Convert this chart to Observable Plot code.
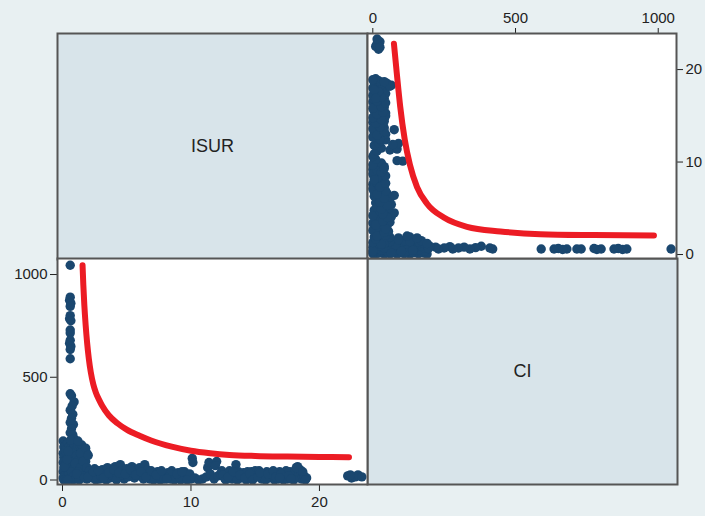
<!DOCTYPE html>
<html><head><meta charset="utf-8">
<script src="https://cdn.jsdelivr.net/npm/d3@7"></script>
<script src="https://cdn.jsdelivr.net/npm/@observablehq/plot@0.6"></script>
<style>
html,body{margin:0;padding:0;background:#e8f0f2;}
#wrap{position:relative;width:705px;height:516px;overflow:hidden;background:#e8f0f2;font-family:"Liberation Sans",Arial,sans-serif;}
#wrap > div{position:absolute;line-height:0;}
</style></head><body><div id="wrap">
<div id="p11"></div><div id="p22"></div><div id="p12"></div><div id="p21"></div>
</div>
<script>
// Variable names (diagonal labels)
const varNames = ["ISUR", "CI"];
// Tick labels
const isurTicks = [0, 10, 20];
const ciTicks = [0, 500, 1000];

// Observations: ISUR values
const isur = [
  // ISUR ~0-0.3
  0.05,0.15,0.25,0.1,0.2,0.05,0.3,0.1,0.2,0.05,0.25,0.1,0.2,0.05,0.3,0.15,0.05,0.25,0.1,0.3,
  // ISUR 0.4-1.0
  0.4,0.5,0.6,0.7,0.8,0.9,1.0,0.4,0.5,0.6,0.7,0.8,0.9,1.0,0.4,0.5,0.6,0.7,0.8,0.9,1.0,0.4,
  // tower, lower part
  0.6,0.7,0.9,0.75,0.6,0.8,0.7,0.6,0.85,0.7,0.6,0.8,0.9,0.65,
  // tower, upper part
  0.6,0.6,0.55,0.65,0.6,0.6,0.55,0.65,0.6,0.6,0.6,0.55,0.65,0.6,0.6,
  // ISUR 1-2
  1.1,1.2,1.4,1.6,1.1,1.3,1.5,1.8,1.0,1.4,1.7,1.9,1.2,1.6,1.3,1.9,2.0,1.1,1.5,1.7,
  0.15,0.25,0.35,0.45,1.2,1.4,1.6,1.8,1.9,2.0,
  // ISUR 2-10
  2.1,2.3,2.5,2.7,2.9,3.1,3.3,3.5,3.7,3.9,4.1,4.3,4.5,4.6,4.8,5.0,5.2,5.4,5.6,5.8,6.0,6.2,6.4,6.6,6.8,
  7.0,7.2,7.4,7.6,7.8,8.0,8.2,8.4,8.6,8.8,9.0,9.2,9.4,9.6,9.8,10.0,
  2.2,2.6,3.0,3.4,3.8,4.2,4.7,5.1,5.5,5.9,6.3,6.7,7.1,7.5,7.9,8.3,8.7,9.1,9.5,9.9,
  2.0,2.4,2.8,3.2,3.6,4.0,4.4,4.9,5.3,5.7,6.1,6.5,6.9,7.3,7.7,8.1,8.5,8.9,9.3,9.7,
  // ISUR 10-13.5
  10.1,10.15,10.3,10.6,10.9,11.2,11.3,11.4,11.5,11.8,12.0,12.1,12.3,11.9,13.5,
  // ISUR 12.4-19
  12.4,12.6,12.8,13.0,13.2,13.4,13.7,13.9,14.1,14.3,14.5,14.7,14.9,15.1,15.3,15.5,15.7,15.9,16.1,16.3,
  16.5,16.7,16.9,17.1,17.3,17.5,17.7,17.9,18.1,18.3,18.4,18.6,18.8,19.0,18.5,
  12.5,13.1,13.6,14.0,14.4,15.0,15.6,16.2,16.8,17.4,18.0,18.2,
  12.7,12.9,13.3,13.8,14.2,14.6,14.8,15.2,15.4,15.8,16.0,16.4,16.6,17.0,17.2,17.6,17.8,18.7,18.9,16.9,
  // ISUR 22-23.5
  22.2,22.5,22.8,23.0,23.3,22.4
];
// Observations: CI values (paired with isur)
const ci = [
  190,180,170,160,145,130,120,110,95,85,75,60,50,40,30,20,10,5,0,0,
  180,160,140,180,150,170,190,120,90,100,70,110,90,60,50,30,10,40,0,20,5,0,
  420,410,380,360,340,320,300,280,270,250,230,220,200,195,
  1045,890,875,860,845,800,785,775,730,715,680,665,650,635,590,
  150,165,160,140,120,100,110,90,80,60,50,130,40,20,0,5,30,30,170,10,
  65,140,100,140,190,130,90,155,60,120,
  45,10,55,25,5,50,30,60,10,40,65,20,75,45,5,55,30,65,10,45,60,25,75,50,5,
  35,15,40,0,30,20,35,5,30,15,35,0,25,10,20,5,
  25,0,20,0,25,0,25,15,35,20,5,30,0,20,5,15,0,15,40,30,
  15,40,45,10,35,50,35,30,50,25,40,15,45,25,45,5,45,30,40,0,
  105,85,10,0,5,15,60,85,30,5,90,20,30,70,75,
  45,10,30,45,5,25,40,10,35,0,20,40,10,30,45,5,25,40,10,35,
  0,25,40,15,30,5,40,20,45,65,30,5,20,10,50,
  25,20,0,20,40,45,15,20,5,45,0,60,
  0,15,40,25,10,30,0,15,35,0,30,45,15,30,0,20,5,40,0,10,
  20,10,15,25,15,25
];

// Fitted curve in the CI-vs-ISUR panel (x = ISUR, y = CI)
const fitA_isur = [1.56,1.62,1.70,1.80,1.92,2.05,2.2,2.4,2.6,2.85,3.1,3.6,4.3,5.0,6.0,6.9,8.5,10,11.5,13,15,17.5,20,22.3];
const fitA_ci   = [1045,950,850,755,665,590,525,465,425,390,360,315,275,245,215,192,162,142,130,122,117,114,112,111];
// Fitted curve in the ISUR-vs-CI panel (x = CI, y = ISUR)
const fitB_ci   = [74,84,96,112,130,155,190,249,330,447,587,774,985];
const fitB_isur = [22.8,19.6,16.0,12.4,9.7,7.3,5.5,4.0,3.0,2.5,2.2,2.1,2.05];

const points = isur.map((v, i) => ({isur: v, ci: ci[i]}));
const fitA = fitA_isur.map((v, i) => ({isur: v, ci: fitA_ci[i]}));
const fitB = fitB_ci.map((v, i) => ({ci: v, isur: fitB_isur[i]}));

const navy = "#1a476f";
const red = "#ec1c24";
const frameColor = "#555";
const diagFill = "#d8e4ea";
const fmt = d3.format("d");
const style = {background: "transparent", fontFamily: '"Liberation Sans", Arial, sans-serif', fontSize: "15px", color: "#222", overflow: "visible"};

function place(id, left, top, svg) {
  const el = document.getElementById(id);
  el.style.left = left + "px";
  el.style.top = top + "px";
  el.appendChild(svg);
}

// Diagonal panels
function diag(name) {
  return Plot.plot({
    width: 312, height: 228, margin: 1, style,
    marks: [
      Plot.frame({fill: diagFill, stroke: frameColor, strokeWidth: 2}),
      Plot.text([name], {frameAnchor: "middle", text: d => d, fontSize: 18, fill: "#222"})
    ]
  });
}
place("p11", 56, 32, diag(varNames[0]));
place("p22", 366, 257, diag(varNames[1]));

// Top-right: x = CI, y = ISUR
place("p12", 360, 0, Plot.plot({
  width: 345, height: 265, marginLeft: 7, marginRight: 29, marginTop: 33, marginBottom: 7, style,
  x: {domain: [-18.6, 1064], ticks: ciTicks, tickFormat: fmt, axis: "top", tickSize: 6, tickPadding: 5, label: null},
  y: {domain: [-0.43, 23.9], ticks: isurTicks, tickFormat: fmt, axis: "right", tickSize: 6, tickPadding: 3, label: null},
  marks: [
    Plot.frame({fill: "white"}),
    Plot.dot(points, {x: "ci", y: "isur", r: 4.7, fill: navy, clip: true}),
    Plot.line(fitB, {x: "ci", y: "isur", stroke: red, strokeWidth: 6, curve: "monotone-x", strokeLinecap: "round", clip: true}),
    Plot.frame({stroke: frameColor, strokeWidth: 2})
  ]
}));

// Bottom-left: x = ISUR, y = CI
place("p21", 0, 250, Plot.plot({
  width: 375, height: 266, marginLeft: 57, marginRight: 8, marginTop: 8, marginBottom: 32, style,
  x: {domain: [-0.39, 23.74], ticks: isurTicks, tickFormat: fmt, axis: "bottom", tickSize: 7, tickPadding: 5, label: null},
  y: {domain: [-21.9, 1078], ticks: ciTicks, tickFormat: fmt, axis: "left", tickSize: 7, tickPadding: 3, label: null},
  marks: [
    Plot.frame({fill: "white"}),
    Plot.dot(points, {x: "isur", y: "ci", r: 4.7, fill: navy, clip: true}),
    Plot.line(fitA, {x: "isur", y: "ci", stroke: red, strokeWidth: 6, curve: "monotone-x", strokeLinecap: "round", clip: true}),
    Plot.frame({stroke: frameColor, strokeWidth: 2})
  ]
}));
</script></body></html>
